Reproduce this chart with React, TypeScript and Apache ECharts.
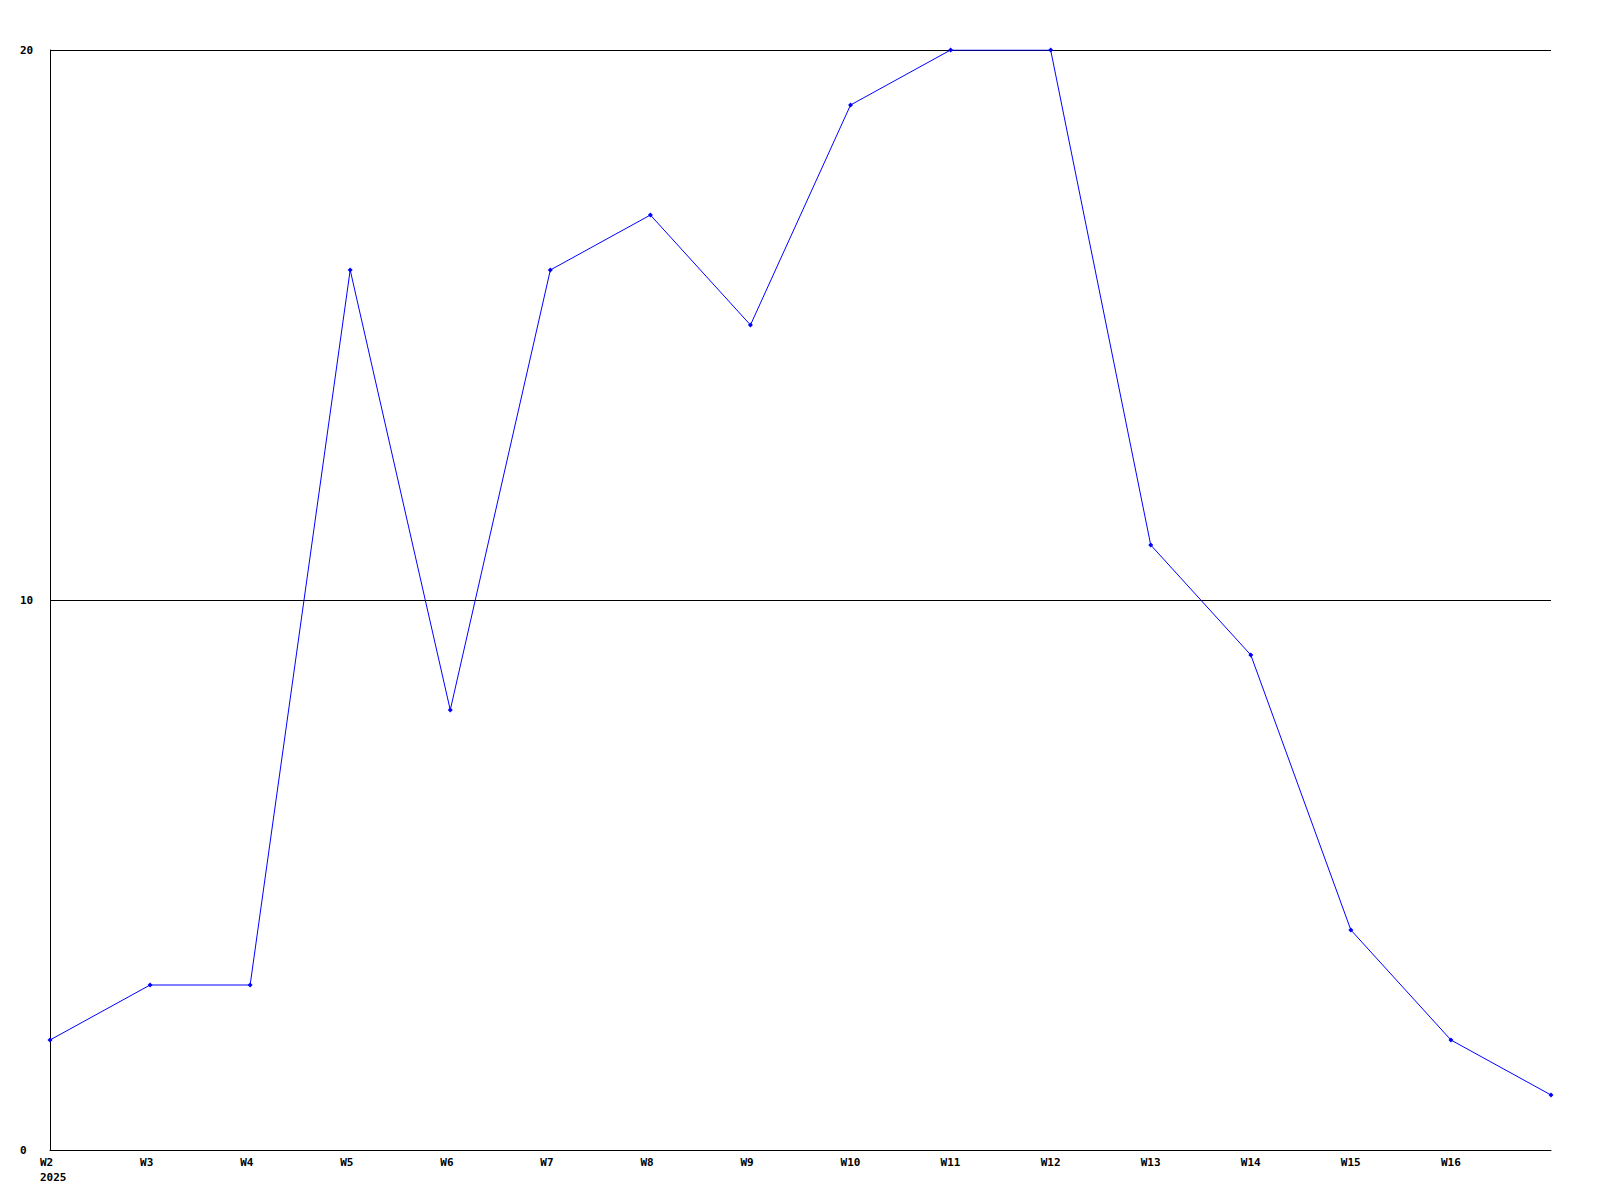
import React, { useEffect, useRef } from "react";
import * as echarts from "echarts";

const weeks = ["W2", "W3", "W4", "W5", "W6", "W7", "W8", "W9", "W10", "W11", "W12", "W13", "W14", "W15", "W16", "W17"];
const hiddenLabels = ["W17"];
const yearLabel = "2025";
const values = [2, 3, 3, 16, 8, 16, 17, 15, 19, 20, 20, 11, 9, 4, 2, 1];
const yTicks = [0, 10, 20];

export default function App() {
  const ref = useRef<HTMLDivElement>(null);
  useEffect(() => {
    const chart = echarts.init(ref.current!, undefined, { renderer: "svg" });
    const font = "DejaVu Sans Mono";
    chart.setOption({
      animation: false,
      backgroundColor: "#ffffff",
      grid: { left: 50, top: 50, right: 49, bottom: 50, containLabel: false },
      xAxis: {
        type: "category",
        data: weeks,
        boundaryGap: false,
        axisLine: { show: true, lineStyle: { color: "#000", width: 1 } },
        axisTick: { show: false },
        splitLine: { show: false },
        axisLabel: {
          interval: 0,
          align: "left",
          verticalAlign: "top",
          margin: 5,
          padding: [0, 0, 0, -10],
          color: "#000",
          fontFamily: font,
          fontWeight: "bold",
          fontSize: 11,
          lineHeight: 15,
          formatter: (v: string, i: number) =>
            hiddenLabels.includes(v) ? "" : i === 0 ? v + "\n" + yearLabel : v,
        },
      },
      yAxis: {
        type: "value",
        min: yTicks[0],
        max: yTicks[yTicks.length - 1],
        interval: 10,
        axisLine: { show: true, lineStyle: { color: "#000", width: 1 } },
        axisTick: { show: false },
        splitLine: { show: true, lineStyle: { color: "#000", width: 1 } },
        axisLabel: {
          align: "left",
          verticalAlign: "middle",
          margin: 30,
          color: "#000",
          fontFamily: font,
          fontWeight: "bold",
          fontSize: 11,
        },
      },
      series: [
        {
          type: "line",
          data: values,
          lineStyle: { color: "#0000ff", width: 1 },
          itemStyle: { color: "#0000ff" },
          symbol: "diamond",
          symbolSize: 5,
          showSymbol: true,
        },
      ],
    });
    return () => chart.dispose();
  }, []);
  return (
    <div
      ref={ref}
      style={{ position: "absolute", left: 0, top: 0, width: 1600, height: 1200 }}
    />
  );
}
